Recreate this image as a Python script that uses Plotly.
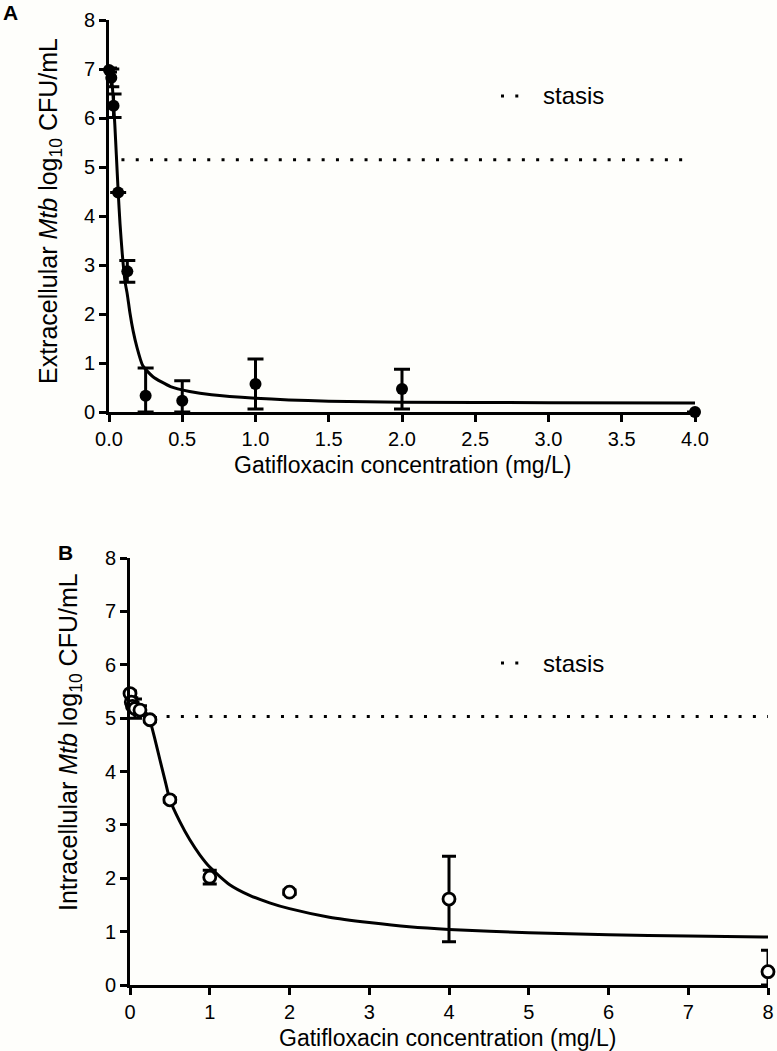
import plotly.graph_objects as go

W, H = 777, 1051

# ---------------- Panel A (extracellular) ----------------
conc_A = [0, 0.0156, 0.031, 0.0625, 0.125, 0.25, 0.5, 1, 2, 4]
cfu_A = [6.98, 6.82, 6.25, 4.48, 2.87, 0.33, 0.23, 0.57, 0.47, 0.0]
err_A_up = [0.04, 0.18, 0.24, 0.0, 0.22, 0.57, 0.41, 0.51, 0.40, 0.0]
err_A_dn = [0.04, 0.18, 0.24, 0.0, 0.22, 0.33, 0.23, 0.51, 0.41, 0.0]

fit_x_A = [0, 0.008, 0.016, 0.024, 0.031, 0.04, 0.05, 0.0625, 0.075, 0.09, 0.11,
           0.125, 0.143, 0.165, 0.19, 0.23, 0.3, 0.42, 0.55, 0.7, 1.0, 1.5, 2, 3, 4]
fit_y_A = [7.0, 6.97, 6.85, 6.6, 6.3, 5.85, 5.25, 4.5, 3.85, 3.25, 2.65,
           2.4, 2.02, 1.65, 1.33, 0.95, 0.72, 0.52, 0.42, 0.35, 0.28, 0.22, 0.2, 0.19, 0.185]

stasis_x_A = [0.085, 3.97]
stasis_y_A = [5.15, 5.15]

# ---------------- Panel B (intracellular) ----------------
conc_B = [0, 0.0156, 0.031, 0.0625, 0.125, 0.25, 0.5, 1, 2, 4, 8]
cfu_B = [5.46, 5.30, 5.22, 5.18, 5.15, 4.97, 3.47, 2.02, 1.74, 1.61, 0.25]
err_B_up = [0.05, 0.08, 0.08, 0.18, 0.08, 0.04, 0.04, 0.13, 0.04, 0.80, 0.40]
err_B_dn = [0.05, 0.08, 0.08, 0.18, 0.08, 0.04, 0.04, 0.13, 0.04, 0.80, 0.25]

fit_x_B = [0, 0.0625, 0.125, 0.19, 0.25, 0.31, 0.375, 0.44, 0.5, 0.625, 0.75, 0.875,
           1, 1.25, 1.5, 1.75, 2, 2.5, 3, 3.5, 4, 5, 6, 7, 8]
fit_y_B = [5.22, 5.21, 5.18, 5.12, 4.95, 4.62, 4.22, 3.83, 3.47, 3.06, 2.72, 2.44,
           2.21, 1.88, 1.68, 1.54, 1.43, 1.27, 1.17, 1.09, 1.04, 0.98, 0.94, 0.92, 0.90]

stasis_x_B = [0.1, 8.0]
stasis_y_B = [5.03, 5.03]

x_ticks_A = [0, 0.5, 1.0, 1.5, 2.0, 2.5, 3.0, 3.5, 4.0]
x_ticks_B = [0, 1, 2, 3, 4, 5, 6, 7, 8]
y_ticks = [0, 1, 2, 3, 4, 5, 6, 7, 8]

BG = "#fefefb"
FONT = "Liberation Sans, Arial, sans-serif"
DOT = "3px,11.3px"


def px(x):
    return x / W


def py(y):
    return 1 - y / H


fig = go.Figure()

# Panel A traces
fig.add_trace(go.Scatter(x=stasis_x_A, y=stasis_y_A, mode="lines",
                         line=dict(color="black", width=3, dash=DOT),
                         xaxis="x", yaxis="y", showlegend=False))
fig.add_trace(go.Scatter(x=fit_x_A, y=fit_y_A, mode="lines",
                         line=dict(color="black", width=3, shape="spline", smoothing=0.6),
                         xaxis="x", yaxis="y", showlegend=False))
fig.add_trace(go.Scatter(x=conc_A, y=cfu_A, mode="markers",
                         marker=dict(color="black", size=12, symbol="circle"),
                         error_y=dict(type="data", array=err_A_up, arrayminus=err_A_dn,
                                      symmetric=False, color="black", thickness=3, width=8),
                         cliponaxis=False, xaxis="x", yaxis="y", showlegend=False))

# Panel B traces
fig.add_trace(go.Scatter(x=stasis_x_B, y=stasis_y_B, mode="lines",
                         line=dict(color="black", width=3, dash=DOT),
                         xaxis="x2", yaxis="y2", showlegend=False))
fig.add_trace(go.Scatter(x=fit_x_B, y=fit_y_B, mode="lines",
                         line=dict(color="black", width=3, shape="spline", smoothing=0.6),
                         xaxis="x2", yaxis="y2", showlegend=False))
fig.add_trace(go.Scatter(x=conc_B, y=cfu_B, mode="markers",
                         marker=dict(color=BG, size=12, symbol="circle",
                                     line=dict(color="black", width=2.8)),
                         error_y=dict(type="data", array=err_B_up, arrayminus=err_B_dn,
                                      symmetric=False, color="black", thickness=3, width=7),
                         cliponaxis=False, xaxis="x2", yaxis="y2", showlegend=False))

axis_common = dict(showline=True, linecolor="black", linewidth=3, ticks="outside",
                   ticklen=7, tickwidth=3, tickcolor="black", showgrid=False, zeroline=False,
                   automargin=False,
                   tickfont=dict(family=FONT, size=20, color="black"), fixedrange=True)

fig.update_layout(
    width=W, height=H,
    margin=dict(l=0, r=0, t=0, b=0, pad=0, autoexpand=False),
    paper_bgcolor=BG, plot_bgcolor=BG,
    showlegend=False,
    xaxis=dict(domain=[px(109), px(695)], range=[0, 4], tickvals=x_ticks_A,
               ticktext=[f"{v:.1f}" for v in x_ticks_A], anchor="y", **axis_common),
    yaxis=dict(domain=[py(412), py(20)], range=[0, 8], tickvals=y_ticks, anchor="x",
               **axis_common),
    xaxis2=dict(domain=[px(130), px(768)], range=[0, 8], tickvals=x_ticks_B, anchor="y2",
                **axis_common),
    yaxis2=dict(domain=[py(985), py(558)], range=[0, 8], tickvals=y_ticks, anchor="x2",
                **axis_common),
)

title_font = dict(family=FONT, size=23, color="black")
ytitle_font = dict(family=FONT, size=25, color="black")
annots = [
    dict(text="<b>A</b>", x=px(10), y=py(13), font=dict(family=FONT, size=21, color="black")),
    dict(text="<b>B</b>", x=px(65), y=py(552), font=dict(family=FONT, size=21, color="black")),
    dict(text="Gatifloxacin concentration (mg/L)", x=px(403), y=py(465), font=title_font),
    dict(text="Gatifloxacin concentration (mg/L)", x=px(448), y=py(1038), font=title_font),
    dict(text="Extracellular <i>Mtb</i> log<sub>10</sub> CFU/mL", x=px(50), y=py(211),
         textangle=-90, font=ytitle_font),
    dict(text="Intracellular <i>Mtb</i> log<sub>10</sub> CFU/mL", x=px(70), y=py(742),
         textangle=-90, font=ytitle_font),
    dict(text="stasis", x=px(541), y=py(96), xanchor="left", font=dict(family=FONT, size=24, color="black")),
    dict(text="stasis", x=px(541), y=py(663), xanchor="left", font=dict(family=FONT, size=24, color="black")),
]
for a in annots:
    a.setdefault("xanchor", "center")
    a.update(xref="paper", yref="paper", yanchor="middle", showarrow=False)
fig.update_layout(annotations=annots)

# legend line samples (two dots)
for yy in (96, 663):
    fig.add_shape(type="line", xref="paper", yref="paper",
                  x0=px(501), x1=px(522), y0=py(yy), y1=py(yy),
                  line=dict(color="black", width=3, dash=DOT))

fig.write_html("out.html", config={"displayModeBar": False},
               post_script="document.body.style.margin='0px';")
